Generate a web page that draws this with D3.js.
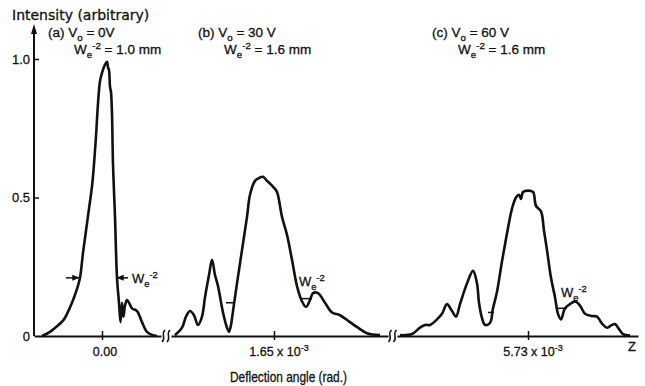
<!DOCTYPE html>
<html>
<head>
<meta charset="utf-8">
<script src="https://cdn.jsdelivr.net/npm/d3@7"></script>
<style>
  body { margin: 0; background: #fff; }
  text { font-family: "Liberation Sans", sans-serif; fill: #111; stroke: #111; stroke-width: 0.3; }
</style>
</head>
<body>
<svg id="chart" width="645" height="386"></svg>
<script>
// Offsets from each panel's centre angle (arbitrary units) and intensity (arbitrary)
var aOffset = [-60, -52, -45, -38, -35, -30, -25, -22, -19, -16, -13, -10, -8, -6, -4, -2, 0, 3, 5, 6, 7, 8, 9, 10, 11, 13, 15, 17, 18.5, 20, 21.5, 23, 25, 27, 30, 35, 40, 45, 50, 55];
var aIntensity = [0, 0.015, 0.035, 0.06, 0.08, 0.12, 0.17, 0.21, 0.30, 0.38, 0.46, 0.54, 0.62, 0.72, 0.84, 0.92, 0.95, 0.98, 0.99, 0.97, 0.96, 0.90, 0.88, 0.80, 0.62, 0.43, 0.21, 0.12, 0.05, 0.12, 0.07, 0.11, 0.13, 0.12, 0.10, 0.09, 0.05, 0.015, 0.004, 0];

var bOffset = [-99, -92, -88, -84, -80, -76, -72, -69, -65, -62, -59, -56, -51, -47, -45, -43, -41, -37, -32, -27, -24, -19, -15, -11, -7, -4, 0, 3, 8, 13, 18, 23, 28, 32, 36, 39, 44, 51, 58, 66, 76, 84, 93, 106];
var bIntensity = [0.003, 0.03, 0.07, 0.09, 0.075, 0.04, 0.07, 0.14, 0.22, 0.275, 0.22, 0.18, 0.085, 0.03, 0.015, 0.04, 0.09, 0.19, 0.31, 0.43, 0.51, 0.56, 0.57, 0.575, 0.56, 0.55, 0.535, 0.52, 0.43, 0.365, 0.275, 0.18, 0.125, 0.105, 0.13, 0.155, 0.155, 0.12, 0.085, 0.075, 0.05, 0.03, 0.01, 0.003];

var cOffset = [-128, -116, -108, -103, -98, -91, -86, -81, -76, -72, -68, -61, -55, -51, -49, -46, -43, -38, -35, -31, -26, -23, -20, -16, -12, -9, -7, -5, 0, 5, 8, 13, 16, 19, 23, 27, 30, 33, 37, 42, 47, 52, 57, 64, 69, 74, 79, 84, 87, 91, 95, 102];
var cIntensity = [0.003, 0.007, 0.03, 0.04, 0.04, 0.06, 0.08, 0.115, 0.09, 0.07, 0.115, 0.19, 0.235, 0.19, 0.12, 0.065, 0.04, 0.047, 0.10, 0.16, 0.27, 0.33, 0.39, 0.46, 0.50, 0.51, 0.495, 0.52, 0.525, 0.52, 0.47, 0.45, 0.38, 0.31, 0.21, 0.14, 0.08, 0.06, 0.10, 0.115, 0.125, 0.11, 0.08, 0.072, 0.07, 0.045, 0.03, 0.04, 0.043, 0.025, 0.007, 0.002];

// Centre tick labels and W_e^-2 width markers (left edge, right edge, level)
var centreMantissa = ["0.00", "1.65", "5.73"];
var widthLeft = [[-36, -23, 0.21], [-48, -39, 0.12], [-40, -34, 0.085]];
var widthRight = [[26, 15, 0.21], [28, 38, 0.135], [30, 39, 0.10]];
var voltages = ["0V", "30 V", "60 V"];
var widthsMm = ["1.0 mm", "1.6 mm", "1.6 mm"];
var panelTags = ["(a)", "(b)", "(c)"];
var yTicks = [0, 0.5, 1.0];

var svg = d3.select("#chart");
var axisX = 34;

var y = d3.scaleLinear().domain([0, 1]).range([336, 59]);

var panels = [
  { off: aOffset, val: aIntensity, x: d3.scaleLinear().domain([-68, 59]).range([34, 161]) },
  { off: bOffset, val: bIntensity, x: d3.scaleLinear().domain([-103, 114]).range([171, 388]) },
  { off: cOffset, val: cIntensity, x: d3.scaleLinear().domain([-131, 110]).range([397, 638]) }
];

// small helper for sub/superscripts
function rich(sel, parts, size) {
  var shift = 0;
  parts.forEach(function (p) {
    var target = p[1] === "sub" ? size * 0.3 : p[1] === "sup" ? -size * 0.4 : 0;
    var t = sel.append("tspan").text(p[0]).attr("dy", target - shift);
    if (p[1]) t.attr("font-size", size * 0.72);
    shift = target;
  });
}

// arrow marker
svg.append("defs").append("marker")
  .attr("id", "arr")
  .attr("viewBox", "0 0 10 10")
  .attr("refX", 9).attr("refY", 5)
  .attr("markerWidth", 5).attr("markerHeight", 5)
  .attr("orient", "auto")
  .append("path").attr("d", "M0,1 L10,5 L0,9 Z").attr("fill", "#111");

// y axis
svg.append("line")
  .attr("x1", axisX).attr("x2", axisX)
  .attr("y1", y(0)).attr("y2", 30)
  .attr("stroke", "#111").attr("stroke-width", 2);
svg.append("path")
  .attr("d", "M" + axisX + ",24 L" + (axisX - 3) + ",34 L" + (axisX + 3) + ",34 Z")
  .attr("fill", "#111");

var yAxis = svg.append("g")
  .attr("transform", "translate(" + axisX + ",0)")
  .call(d3.axisLeft(y).tickValues(yTicks).tickSizeInner(-5).tickSizeOuter(0).tickPadding(4)
    .tickFormat(function (d) { return d === 0 ? "0" : d3.format(".1f")(d); }));
yAxis.select(".domain").remove();
yAxis.selectAll("line").attr("stroke", "#111").attr("stroke-width", 1.5)
  .filter(function (d) { return d === 0; }).remove();
yAxis.selectAll("text").attr("font-size", 13).attr("fill", "#111");

var line = d3.line().curve(d3.curveCatmullRom.alpha(0.5));

panels.forEach(function (p, i) {
  // baseline segment with centre tick
  var ax = svg.append("g")
    .attr("transform", "translate(0," + y(0) + ")")
    .call(d3.axisBottom(p.x).tickValues([0]).tickSizeInner(4).tickSizeOuter(0).tickFormat(""));
  ax.select(".domain").attr("stroke", "#111").attr("stroke-width", 2.2);
  ax.selectAll(".tick line").attr("stroke", "#111").attr("stroke-width", 1.5).attr("y1", -5);

  var lbl = svg.append("text")
    .attr("x", p.x(0) + (i === 0 ? 3 : 5)).attr("y", 356)
    .attr("text-anchor", "middle")
    .attr("font-size", 12.5);
  if (i === 0) lbl.text(centreMantissa[i]);
  else rich(lbl, [[centreMantissa[i] + " x 10", null], ["-3", "sup"]], 12.5);

  // intensity curve
  var pts = p.off.map(function (o, k) { return [p.x(o), y(p.val[k])]; });
  svg.append("path")
    .attr("d", line(pts))
    .attr("fill", "none")
    .attr("stroke", "#111")
    .attr("stroke-width", 2.6)
    .attr("stroke-linejoin", "round");

  // W_e^-2 width markers
  var L = widthLeft[i], R = widthRight[i];
  var lm = svg.append("line")
    .attr("x1", p.x(L[0])).attr("x2", p.x(L[1]))
    .attr("y1", y(L[2])).attr("y2", y(L[2]))
    .attr("stroke", "#111").attr("stroke-width", 1.5);
  var rm = svg.append("line")
    .attr("x1", p.x(R[0])).attr("x2", p.x(R[1]))
    .attr("y1", y(R[2])).attr("y2", y(R[2]))
    .attr("stroke", "#111").attr("stroke-width", 1.5);
  if (i === 0) {
    lm.attr("marker-end", "url(#arr)");
    rm.attr("marker-end", "url(#arr)");
  }

  // header labels
  var hx = [48, 198, 432][i];
  rich(svg.append("text").attr("x", hx).attr("y", 37).attr("font-size", 13.5),
    [[panelTags[i] + " V", null], ["o", "sub"], [" = " + voltages[i], null]], 13.5);
  rich(svg.append("text").attr("x", hx + 26).attr("y", 54).attr("font-size", 13.5),
    [["W", null], ["e", "sub"], ["-2", "sup"], [" = " + widthsMm[i], null]], 13.5);
});

// in-plot W_e^-2 labels
var inLabels = [[0, 30, 0.19], [1, 25, 0.18], [2, 33, 0.14]];
inLabels.forEach(function (d) {
  var p = panels[d[0]];
  rich(svg.append("text").attr("x", p.x(d[1])).attr("y", y(d[2])).attr("font-size", 13),
    [["W", null], ["e", "sub"], ["-2", "sup"]], 13);
});

// axis break marks
[166, 392.5].forEach(function (bx) {
  [-2.5, 2.5].forEach(function (dx) {
    var cx = bx + dx;
    svg.append("path")
      .attr("d", "M" + (cx - 1.5) + "," + (y(0) + 6) +
        " C" + (cx + 3) + "," + (y(0) + 2) + " " + (cx - 3) + "," + (y(0) - 2) + " " + (cx + 1.5) + "," + (y(0) - 6))
      .attr("fill", "none").attr("stroke", "#111").attr("stroke-width", 1.5);
  });
});

// titles
svg.append("text").attr("x", 12).attr("y", 20).attr("font-size", 14)
  .style("font-family", "'DejaVu Sans', sans-serif").text("Intensity (arbitrary)");
svg.append("text").attr("x", 230).attr("y", 382).attr("font-size", 14.5)
  .attr("textLength", 117).attr("lengthAdjust", "spacingAndGlyphs")
  .text("Deflection angle (rad.)");
svg.append("text").attr("x", 632).attr("y", 351).attr("font-size", 13).attr("text-anchor", "middle").text("Z");
</script>
</body>
</html>
